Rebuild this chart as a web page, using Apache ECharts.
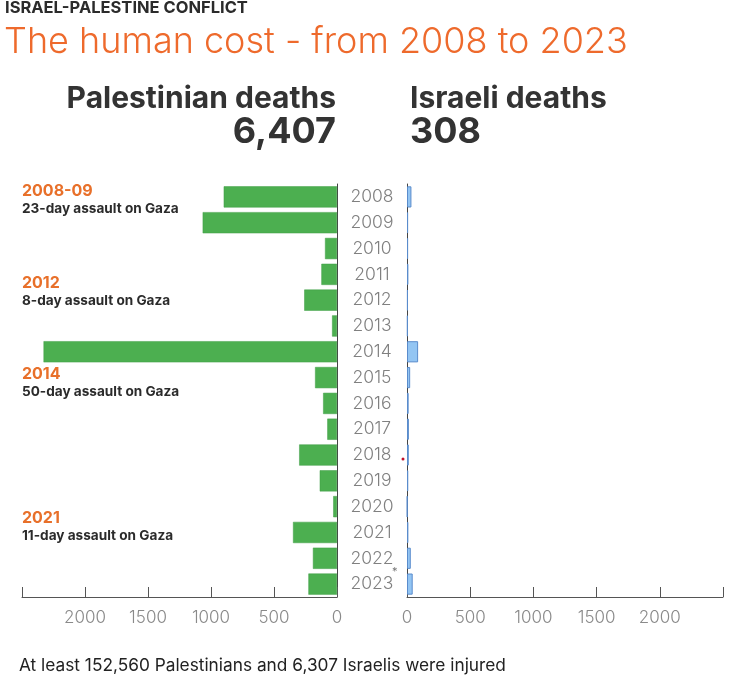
<!DOCTYPE html>
<html>
<head>
<meta charset="utf-8">
<script src="https://cdn.jsdelivr.net/npm/echarts@6/dist/echarts.min.js"></script>
<style>
html,body{margin:0;padding:0;background:#fff;}
#chart{width:742px;height:677px;}
</style>
</head>
<body>
<div id="chart"></div>
<script>
const years = ['2008','2009','2010','2011','2012','2013','2014','2015','2016','2017','2018','2019','2020','2021','2022','2023'];
const palestinianDeaths = [899,1066,95,124,260,39,2329,174,110,77,300,137,30,349,191,227];
const israeliDeaths = [35,9,9,11,7,6,88,25,13,15,14,10,3,11,30,45];
const tickValues = [0,500,1000,1500,2000,2500];
const annotations = [
  {year:'2008-09', text:'23-day assault on Gaza', y:193},
  {year:'2012', text:'8-day assault on Gaza', y:285},
  {year:'2014', text:'50-day assault on Gaza', y:376},
  {year:'2021', text:'11-day assault on Gaza', y:520}
];

const FONT = 'Inter, "Open Sans", sans-serif';
const chart = echarts.init(document.getElementById('chart'));

const xAxisCommon = {
  type:'value', min:0, max:2500, interval:500,
  axisLine:{show:true, lineStyle:{color:'#555', width:1}},
  axisTick:{show:true, inside:true, length:10, lineStyle:{color:'#555'}},
  splitLine:{show:false},
  axisLabel:{color:'#8a8a8a', fontSize:17, fontFamily:FONT, fontWeight:300, margin:12,
    formatter: v => v===2500 ? '' : String(v)}
};

const annoGraphics = [];
annotations.forEach(a=>{
  annoGraphics.push({type:'text', left:22, top:a.y-10, style:{text:a.year, fill:'#e8702a', font:'bold 16px '+FONT}});
  annoGraphics.push({type:'text', left:22, top:a.y+9, style:{text:a.text, fill:'#2b2b2b', font:'bold 13.6px '+FONT}});
});

chart.setOption({
  animation:false,
  backgroundColor:'#fff',
  grid:[
    {left:22, right:742-337, top:184, bottom:80},
    {left:407, right:742-723, top:184, bottom:80}
  ],
  xAxis:[
    Object.assign({gridIndex:0, inverse:true}, xAxisCommon),
    Object.assign({gridIndex:1}, xAxisCommon)
  ],
  yAxis:[
    {type:'category', gridIndex:0, data:years, inverse:true, position:'right',
     axisLine:{show:true, lineStyle:{color:'#444'}}, axisTick:{show:false}, axisLabel:{show:false}},
    {type:'category', gridIndex:1, data:years, inverse:true, position:'left',
     axisLine:{show:true, lineStyle:{color:'#444'}}, axisTick:{show:false},
     axisLabel:{show:true, color:'#808080', fontSize:17.5, fontFamily:FONT, fontWeight:300, margin:35, align:'center', padding:[3,0,0,0]}}
  ],
  series:[
    {type:'bar', xAxisIndex:0, yAxisIndex:0, data:palestinianDeaths, barCategoryGap:'18%',
     itemStyle:{color:'#4caf50', borderColor:'#3f9c44', borderWidth:0.5}},
    {type:'bar', xAxisIndex:1, yAxisIndex:1, data:israeliDeaths, barCategoryGap:'18%',
     itemStyle:{color:'#93c5f3', borderColor:'#5a8ccc', borderWidth:1}}
  ],
  graphic:[
    {type:'text', left:5, top:0, style:{text:'ISRAEL-PALESTINE CONFLICT', fill:'#2b2b2b', font:'bold 16.5px '+FONT}},
    {type:'text', left:4, top:24, style:{text:'The human cost - from 2008 to 2023', fill:'#ee6a2c', font:'300 36px '+FONT}},
    {type:'text', right:742-336, top:84, style:{text:'Palestinian deaths', fill:'#333', font:'bold 30px '+FONT, textAlign:'right'}},
    {type:'text', right:742-336, top:114, style:{text:'6,407', fill:'#333', font:'bold 36px '+FONT, textAlign:'right'}},
    {type:'text', left:410, top:84, style:{text:'Israeli deaths', fill:'#333', font:'bold 30px '+FONT}},
    {type:'text', left:410, top:114, style:{text:'308', fill:'#333', font:'bold 36px '+FONT}},
    {type:'text', left:392, top:566, style:{text:'*', fill:'#777', font:'11px '+FONT}},
    {type:'circle', shape:{cx:403, cy:459, r:1.5}, style:{fill:'#c0102a'}},
    {type:'text', left:19, top:657, style:{text:'At least 152,560 Palestinians and 6,307 Israelis were injured', fill:'#222', font:'17.3px '+FONT}}
  ].concat(annoGraphics)
});
</script>
</body>
</html>
